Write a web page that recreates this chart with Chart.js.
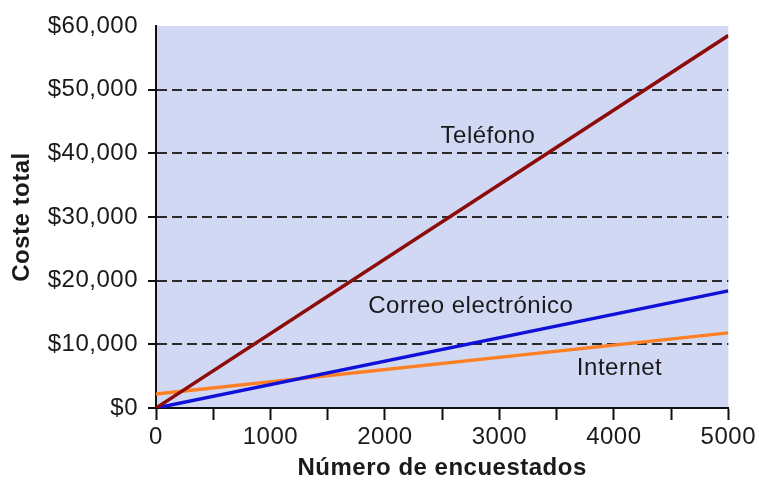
<!DOCTYPE html>
<html>
<head>
<meta charset="utf-8">
<script src="https://cdn.jsdelivr.net/npm/chart.js@4.4.1/dist/chart.umd.min.js"></script>
<style>
  html, body { margin: 0; padding: 0; background: #ffffff; }
  #wrap { width: 759px; height: 481px; position: relative; }
</style>
</head>
<body>
<div id="wrap"><canvas id="c" width="759" height="481"></canvas></div>
<script>
// ---- Data ----
const xValues = [0, 5000];                 // Número de encuestados
const telefono = [0, 58500];               // Coste total, Teléfono
const correo = [0, 18400];                 // Coste total, Correo electrónico
const internet = [2200, 11800];            // Coste total, Internet
const seriesNames = ['Teléfono', 'Correo electrónico', 'Internet'];
const yTickValues = [0, 10000, 20000, 30000, 40000, 50000, 60000];
const xTickValues = [0, 500, 1000, 1500, 2000, 2500, 3000, 3500, 4000, 4500, 5000];
const xLabelValues = [0, 1000, 2000, 3000, 4000, 5000];
// label anchor points (data coordinates) for the in-plot series names
const labelX = [2900, 2750, 4050];
const labelY = [42700, 16000, 6200];

const FONT = "'Liberation Sans', Arial, sans-serif";
const TEXT = '#1a1a1a';
const SPACING = '0.5px';

function pts(ys) { return xValues.map((x, i) => ({ x: x, y: ys[i] })); }

const spacing = {
  id: 'spacing',
  beforeLayout(c) { c.ctx.letterSpacing = SPACING; },
  beforeDraw(c) { c.ctx.letterSpacing = SPACING; }
};

const plotBg = {
  id: 'plotBg',
  beforeDraw(c) {
    const a = c.chartArea, ctx = c.ctx;
    ctx.save();
    ctx.fillStyle = '#d0d8f4';
    ctx.fillRect(a.left, a.top, a.right - a.left, a.bottom - a.top);
    ctx.restore();
  }
};

const seriesLabels = {
  id: 'seriesLabels',
  afterDatasetsDraw(c) {
    const ctx = c.ctx, sx = c.scales.x, sy = c.scales.y;
    ctx.save();
    ctx.letterSpacing = SPACING;
    ctx.font = '24px ' + FONT;
    ctx.fillStyle = TEXT;
    ctx.textAlign = 'center';
    ctx.textBaseline = 'middle';
    seriesNames.forEach((n, i) => {
      ctx.fillText(n, sx.getPixelForValue(labelX[i]), sy.getPixelForValue(labelY[i]));
    });
    ctx.restore();
  }
};

new Chart(document.getElementById('c'), {
  type: 'line',
  data: {
    datasets: [
      { label: seriesNames[0], data: pts(telefono), borderColor: '#8e0b0b', borderWidth: 3.5, pointRadius: 0, fill: false },
      { label: seriesNames[1], data: pts(correo), borderColor: '#1010d8', borderWidth: 3.5, pointRadius: 0, fill: false },
      { label: seriesNames[2], data: pts(internet), borderColor: '#ff8024', borderWidth: 3.5, pointRadius: 0, fill: false }
    ]
  },
  options: {
    responsive: false,
    animation: false,
    devicePixelRatio: 1,
    layout: { padding: { top: 26, right: 30, left: 0, bottom: 0 } },
    plugins: { legend: { display: false }, tooltip: { enabled: false } },
    scales: {
      x: {
        type: 'linear',
        min: 0, max: 5000,
        afterBuildTicks(s) { s.ticks = xTickValues.map(v => ({ value: v })); },
        afterFit(s) { s.height = 73; },
        grid: { drawOnChartArea: false, tickLength: 12, tickColor: '#111', tickWidth: 2 },
        border: { color: '#111', width: 2 },
        ticks: {
          padding: 3,
          autoSkip: false,
          maxRotation: 0,
          color: TEXT,
          font: { family: FONT, size: 24 },
          callback: v => (xLabelValues.includes(v) ? String(v) : '')
        },
        title: {
          display: true, text: 'Número de encuestados', color: TEXT,
          font: { family: FONT, size: 24, weight: 'bold' },
          padding: { top: 0, bottom: -2 }
        }
      },
      y: {
        min: 0, max: 60000,
        afterBuildTicks(s) { s.ticks = yTickValues.map(v => ({ value: v })); },
        afterFit(s) { s.width = 156; },
        grid: {
          color: ctx => (ctx.tick && (ctx.tick.value === 0 || ctx.tick.value === 60000)) ? 'rgba(0,0,0,0)' : '#2a2a2a',
          lineWidth: 2,
          tickLength: 8,
          tickWidth: 2,
          tickColor: ctx => (ctx.tick && ctx.tick.value === 60000) ? 'rgba(0,0,0,0)' : '#111',
          tickBorderDash: []
        },
        border: { color: '#111', width: 2, dash: [10, 5] },
        ticks: {
          padding: 10,
          color: TEXT,
          font: { family: FONT, size: 24 },
          callback: v => '$' + Number(v).toLocaleString('en-US')
        },
        title: {
          display: true, text: 'Coste total', color: TEXT,
          font: { family: FONT, size: 24, weight: 'bold' },
          padding: { top: 8, bottom: 0 }
        }
      }
    }
  },
  plugins: [spacing, plotBg, seriesLabels]
});
</script>
</body>
</html>
